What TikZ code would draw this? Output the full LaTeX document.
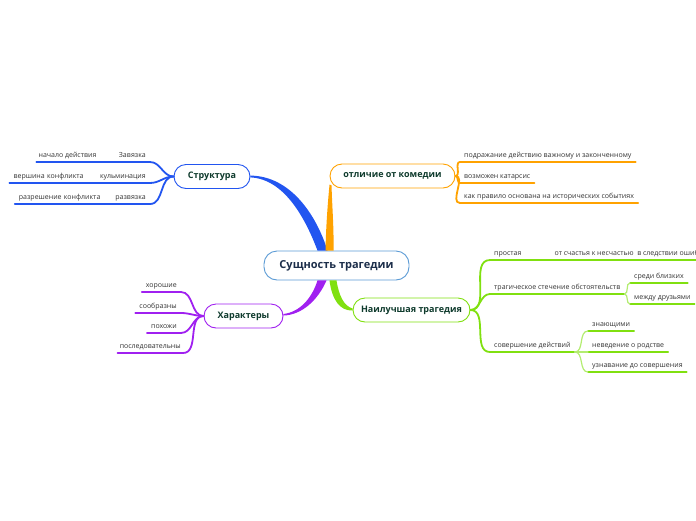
\documentclass[tikz,border=0pt]{standalone}
\usepackage{fontspec}
\setmainfont{Open Sans}
\usetikzlibrary{calc}
\usepackage{xcolor}
\definecolor{brblue}{HTML}{2255F0}
\definecolor{brorange}{HTML}{FFA200}
\definecolor{brpurple}{HTML}{A020F0}
\definecolor{brgreen}{HTML}{80E010}
\definecolor{rootblue}{HTML}{5B9BD5}
\definecolor{roottext}{HTML}{1C2E4A}
\definecolor{hubtext}{HTML}{0F3B2D}
\definecolor{leafgray}{HTML}{333333}

\begin{document}
\begin{tikzpicture}[x=1pt, y=-1pt,
  every node/.style={font=\fontsize{7}{8}\selectfont, text=leafgray},
  root/.style={draw=rootblue, line width=0.9pt, rounded corners=13pt, fill=white,
               minimum width=145, minimum height=29,
               font=\fontsize{11}{12}\selectfont\bfseries, text=roottext},
  hub/.style={draw, line width=0.9pt, rounded corners=12pt, fill=white,
              minimum height=24, font=\fontsize{9}{10}\selectfont\bfseries, text=hubtext},
  leaf/.style={inner xsep=4pt, inner ysep=2.5pt, text height=5pt, text depth=1.5pt},
  lleaf/.style={leaf, anchor=south east},
  rleaf/.style={leaf, anchor=south west},
  ln/.style={line width=1.8pt, line cap=round},
  sub/.style={line width=1.2pt, line cap=round}
]
\useasboundingbox (0,0) rectangle (696,520);

%% hubs
\node[root] (root) at (336.5,265.5) {Сущность трагедии};
\node[hub, draw=brblue,   minimum width=76]  (str)  at (212,176.5)   {Структура};
\node[hub, draw=brorange, minimum width=125] (com)  at (392.5,176)   {отличие от комедии};
\node[hub, draw=brpurple, minimum width=79]  (char) at (243.5,316)   {Характеры};
\node[hub, draw=brgreen,  minimum width=117] (best) at (411.5,310)   {Наилучшая трагедия};

%% thick branches
\fill[brblue] ($(root.north)+(-19,0)$) .. controls (306,220) and (285,179) .. ($(str.east)+(0,0.9)$)
  -- ($(str.east)+(0,-0.9)$) .. controls (290,176) and (316,214) .. ($(root.north)+(-9,0)$) -- cycle;
\fill[brorange] ($(root.north)+(-11,0)$) .. controls (326,225) and (328,200) .. ($(com.south west)+(0,-4)$)
  -- ($(com.south west)+(2,-3)$) .. controls (332,205) and (334,228) .. ($(root.north)+(-3,0)$) -- cycle;
\fill[brpurple] ($(root.south)+(-19,0)$) .. controls (312,298) and (300,312) .. ($(char.east)+(0,-2)$)
  -- ($(char.east)+(0,-0.5)$) .. controls (302,315) and (318,300) .. ($(root.south)+(-10,0)$) -- cycle;
\fill[brgreen] ($(root.south)+(-7,0)$) .. controls (332,300) and (340,311) .. ($(best.west)+(0,0.5)$)
  -- ($(best.west)+(0,-1.5)$) .. controls (344,306) and (339,296) .. ($(root.south)+(0,0)$) -- cycle;

%% Структура
\node[lleaf, text width=49pt, align=right] (zav) at (150,162) {Завязка};
\node[lleaf, inner xsep=2pt] (nach) at ($(zav.south west)+(6,0)$) {начало действия};
\node[lleaf] (kulm) at (150,183) {кульминация};
\node[lleaf, text width=78pt, align=left] (versh) at (kulm.south west) {вершина конфликта};
\node[lleaf] (razv) at (150,204) {развязка};
\node[lleaf, text width=88pt, align=left] (razr) at (razv.south west) {разрешение конфликта};

\foreach \n in {zav,nach,kulm,versh,razv,razr}
  \draw[ln, brblue] (\n.south west) -- (\n.south east);
\foreach \n in {zav,kulm,razv}
  \draw[ln, brblue] (str.west) to[out=180, in=0] (\n.south east);

%% отличие от комедии
\node[rleaf] (pod) at (460,162) {подражание действию важному и законченному};
\node[rleaf] (kat) at (460,183) {возможен катарсис};
\node[rleaf] (ist) at (460,203) {как правило основана на исторических событиях};

\foreach \n in {pod,kat,ist}{
  \draw[ln, brorange] (\n.south west) -- (\n.south east);
  \draw[ln, brorange] (com.east) to[out=0, in=180] (\n.south west);
}

%% Характеры
\node[lleaf] (hor)  at (181,292) {хорошие};
\node[lleaf] (soob) at (181,313) {сообразны};
\node[lleaf] (poh)  at (181,333) {похожи};
\node[lleaf, inner xsep=2pt] (posl) at (183,353) {последовательны};

\foreach \n in {hor,soob,poh,posl}{
  \draw[ln, brpurple] (\n.south west) -- (\n.south east);
  \draw[ln, brpurple] (char.west) to[out=180, in=0] (\n.south east);
}

%% Наилучшая трагедия
\node[rleaf, text width=52pt, align=left] (prost) at (490,260) {простая};
\node[rleaf] (sch) at (prost.south east) {от счастья к несчастью~ в следствии ошибки};
\node[rleaf] (trag) at (490,294) {трагическое стечение обстоятельств};
\node[rleaf] (sov)  at (490,352) {совершение действий};

\node[rleaf] (sred) at (630,283) {среди близких};
\node[rleaf] (mezh) at (630,304) {между друзьями};
\node[rleaf] (zn)   at (588,331) {знающими};
\node[rleaf] (nev)  at (588,352) {неведение о родстве};
\node[rleaf] (uzn)  at (588,372) {узнавание до совершения};

\foreach \n in {prost,trag,sov}{
  \draw[ln, brgreen] (\n.south west) -- (\n.south east);
  \draw[ln, brgreen] (best.east) to[out=0, in=180] (\n.south west);
}
\draw[ln, brgreen] (sch.south west) -- (sch.south east);
\foreach \n in {sred,mezh,zn,nev,uzn}
  \draw[sub, brgreen] (\n.south west) -- (\n.south east);
\foreach \n in {sred,mezh}
  \draw[sub, brgreen!60] (trag.south east) to[out=0, in=180] (\n.south west);
\foreach \n in {zn,nev,uzn}
  \draw[sub, brgreen!60] (sov.south east) to[out=0, in=180] (\n.south west);

\end{tikzpicture}
\end{document}
